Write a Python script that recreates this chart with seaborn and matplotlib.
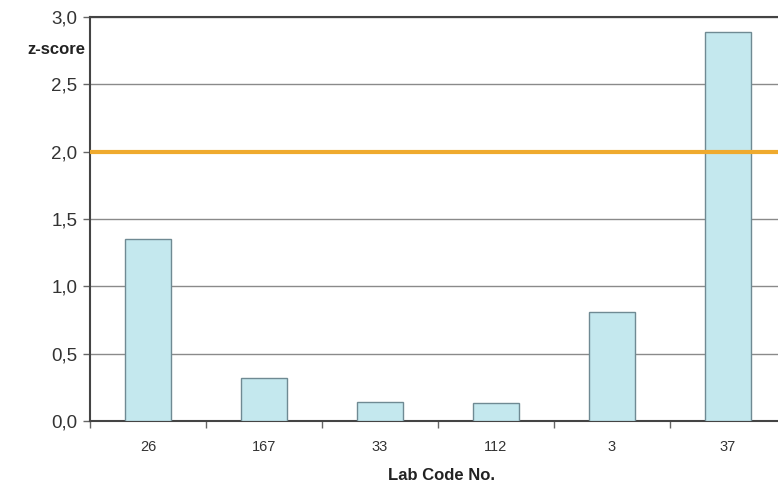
import matplotlib
matplotlib.use("Agg")
import matplotlib.pyplot as plt
import seaborn as sns
import pandas as pd
from matplotlib.ticker import FuncFormatter, FixedLocator

labs = ["26", "167", "33", "112", "3", "37"]
zscores = [1.35, 0.32, 0.14, 0.13, 0.81, 2.89]
limit = 2.0
yticks = [0.0, 0.5, 1.0, 1.5, 2.0, 2.5, 3.0]

df = pd.DataFrame({"lab": labs, "z": zscores})

sns.set_theme(style="white")
plt.rcParams['font.family'] = ['Liberation Sans', 'DejaVu Sans']

W, H = 778, 488
fig = plt.figure(figsize=(W / 100, H / 100), dpi=100)
left, right, top, bottom = 90, 786, 17, 421
ax = fig.add_axes([left / W, 1 - bottom / H, (right - left) / W, (bottom - top) / H])

sns.barplot(data=df, x="lab", y="z", order=labs, ax=ax, width=0.4,
            color="#c4e8ee", edgecolor="#6f8a93", linewidth=1.0, saturation=1, zorder=3)

ax.set_xlim(-0.5, len(labs) - 0.5)
ax.set_ylim(0, 3.0)
ax.set_yticks(yticks)
ax.yaxis.set_major_formatter(FuncFormatter(lambda v, p: f"{v:.1f}".replace(".", ",")))
ax.grid(axis="y", color="#8a8a8a", linewidth=1.0, zorder=0)
ax.set_axisbelow(True)

ax.axhline(limit, color="#efaa2e", linewidth=3.0, zorder=4)

for s in ["left", "bottom", "top"]:
    ax.spines[s].set_color("#444444")
    ax.spines[s].set_linewidth(1.5)
ax.spines["right"].set_visible(False)

ax.tick_params(axis="y", which="major", length=5, width=1, color="#666666",
               labelsize=13.5, labelcolor="#333333", pad=4, left=True)
ax.tick_params(axis="x", which="major", length=0, labelsize=10.5, labelcolor="#333333", pad=14)
ax.xaxis.set_minor_locator(FixedLocator([i + 0.5 for i in range(-1, len(labs))]))
ax.tick_params(axis="x", which="minor", length=5, width=1, color="#666666", bottom=True)

ax.set_xlabel("Lab Code No.", fontsize=12, fontweight="bold", color="#222222")
ax.set_ylabel("")
fig.text(85 / W, 1 - 50 / H, "z-score", ha="right", va="center",
         fontsize=12, fontweight="bold", color="#222222")
ax.xaxis.set_label_coords((442 - left) / (right - left), -(476 - bottom) / (bottom - top))
ax.xaxis.label.set_va("center")

fig.savefig("out.png", dpi=100)
